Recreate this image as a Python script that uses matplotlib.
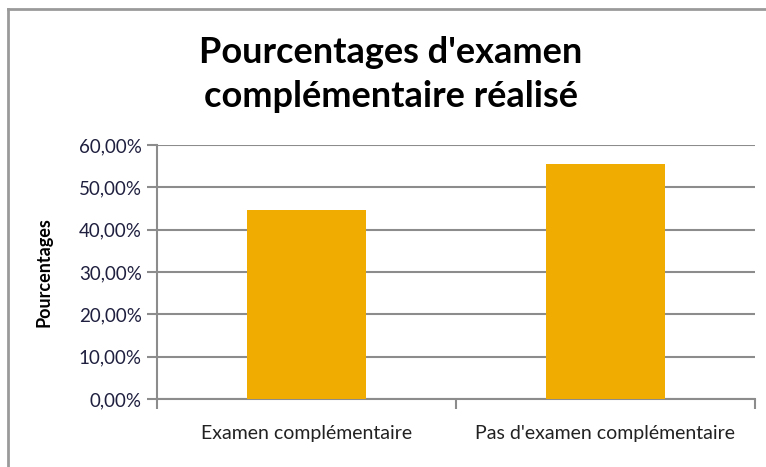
import numpy as np
import matplotlib.pyplot as plt
from matplotlib.lines import Line2D
from matplotlib.ticker import FuncFormatter

categories = ["Examen complémentaire", "Pas d'examen complémentaire"]
values = [44.7, 55.5]
yticks = [0, 10, 20, 30, 40, 50, 60]

plt.rcParams['font.family'] = ['Lato', 'DejaVu Sans']

fig = plt.figure(figsize=[7.66, 4.67], dpi=100)
ax = fig.add_axes([0.205, 0.1456, 0.7806, 0.5439])

x = np.arange(len(categories))
ax.bar(x, values, width=0.4, color='#F0AC00', zorder=3)

ax.set_xlim(-0.5, 1.5)
ax.set_ylim(0, 60)
ax.set_yticks(yticks)
ax.yaxis.set_major_formatter(FuncFormatter(lambda v, p: ("%.2f" % v).replace('.', ',') + '%'))
ax.grid(axis='y', color='#8c8c8c', linewidth=1.5, zorder=0)

# category ticks sit between the categories, labels in the middle
ax.set_xticks([-0.5, 0.5, 1.5])
ax.set_xticklabels([])
ax.set_xticks(x, minor=True)
ax.set_xticklabels(categories, minor=True)
ax.tick_params(axis='x', which='minor', length=0, pad=19, labelsize=14, labelcolor='#222222')
ax.tick_params(axis='x', which='major', length=7, width=1.5, color='#8c8c8c')
ax.tick_params(axis='y', length=7, width=1.5, color='#8c8c8c', labelsize=13.5, labelcolor='#1f1f3f', pad=4)

for s in ['top', 'right']:
    ax.spines[s].set_visible(False)
for s in ['left', 'bottom']:
    ax.spines[s].set_color('#8c8c8c')
    ax.spines[s].set_linewidth(1.5)

ax.set_ylabel("Pourcentages", fontsize=13, fontweight='bold', labelpad=19)

fig.text(0.51, 0.84, "Pourcentages d'examen\ncomplémentaire réalisé", ha='center', va='center',
         fontsize=26, fontweight='bold', linespacing=1.42)

# chart frame
fig.add_artist(Line2D([7.5/766, 1], [1 - 8.5/467] * 2, transform=fig.transFigure, color='#9a9a9a', linewidth=2))
fig.add_artist(Line2D([7.5/766] * 2, [0, 1 - 8.5/467], transform=fig.transFigure, color='#9a9a9a', linewidth=2))

#plt.show()
plt.savefig("out.png")
